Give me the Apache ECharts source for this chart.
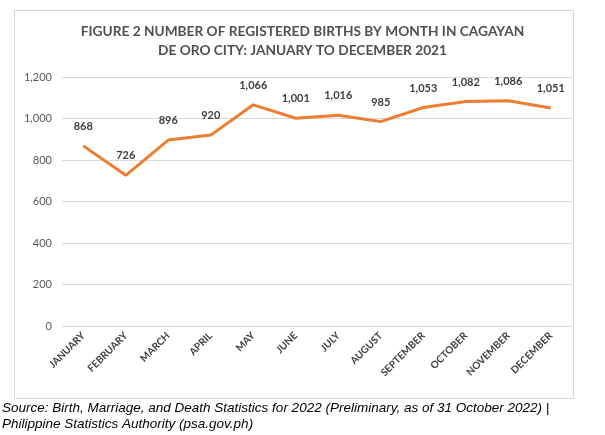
<!DOCTYPE html>
<html><head><meta charset="utf-8">
<script src="https://cdn.jsdelivr.net/npm/echarts@6/dist/echarts.min.js"></script>
<style>html,body{margin:0;padding:0;background:#fff}#c{width:605px;height:435px}</style>
</head><body><div id="c"></div>
<script>
const months = ['JANUARY','FEBRUARY','MARCH','APRIL','MAY','JUNE','JULY','AUGUST','SEPTEMBER','OCTOBER','NOVEMBER','DECEMBER'];
const births = [868,726,896,920,1066,1001,1016,985,1053,1082,1086,1051];
const yTicks = {min:0, max:1200, interval:200};
const titleLines = ['FIGURE 2 NUMBER OF REGISTERED BIRTHS BY MONTH IN CAGAYAN','DE ORO CITY: JANUARY TO DECEMBER 2021'];
const sourceLines = ['Source: Birth, Marriage, and Death Statistics for 2022 (Preliminary, as of 31 October 2022) |','Philippine Statistics Authority (psa.gov.ph)'];

const chart = echarts.init(document.getElementById('c'), null, {renderer:'canvas'});
chart.setOption({
  animation:false,
  backgroundColor:'#fff',
  title:{text:titleLines.join('\n'), left:'center', top:17,
    textStyle:{fontFamily:'Lato', fontWeight:'bold', fontSize:13.7, color:'#505050', lineHeight:19}},
  graphic:[
    {type:'rect', shape:{x:14.5,y:10.5,width:559,height:388}, style:{fill:'none', stroke:'#d9d9d9', lineWidth:1}, z:-1},
    {type:'text', left:2, top:400, style:{text:sourceLines.join('\n'), font:'italic 13.5px "Liberation Sans"', fill:'#000', lineHeight:16}}
  ],
  grid:{left:62, right:33, top:77, bottom:109, containLabel:false},
  xAxis:{type:'category', data:months, boundaryGap:true,
    axisLine:{show:false}, axisTick:{show:false},
    axisLabel:{rotate:45, interval:0, fontFamily:'Lato', fontSize:10, fontWeight:'bold', color:'#404040', margin:8}},
  yAxis:{type:'value', min:yTicks.min, max:yTicks.max, interval:yTicks.interval,
    axisLine:{show:false}, axisTick:{show:false},
    splitLine:{lineStyle:{color:'#d9d9d9', width:1}},
    axisLabel:{fontFamily:'Lato', fontSize:11, color:'#595959', margin:10,
      formatter:v=>v.toLocaleString('en-US')}},
  series:[{type:'line', data:births, symbol:'circle', symbolSize:4, showSymbol:true,
    itemStyle:{color:'rgba(237,125,49,0)', borderWidth:0},
    lineStyle:{color:'#ED7D31', width:3},
    label:{show:true, position:'top', distance:12, fontFamily:'Lato', fontSize:11, fontWeight:'bold', color:'#404040',
      formatter:p=>p.value.toLocaleString('en-US')}}]
});
</script></body></html>
